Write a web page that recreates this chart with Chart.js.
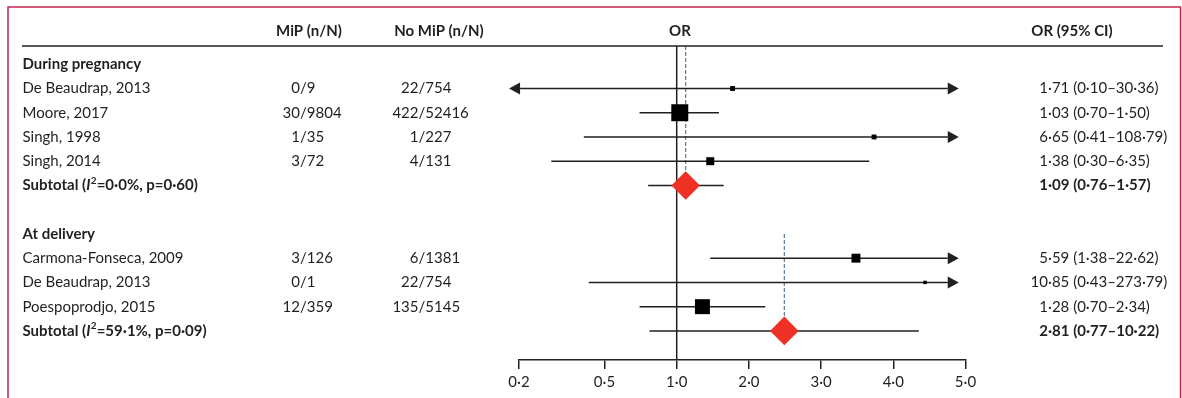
<!DOCTYPE html>
<html lang="en">
<head>
  <meta charset="UTF-8">
  <title>MiP forest plot</title>
  <script src="https://cdn.jsdelivr.net/npm/chart.js"></script>
  <style>
    html, body { margin: 0; padding: 0; background: #fff; }
    #chartContainer { width: 1182px; height: 398px; }
  </style>
</head>
<body>
<div id="chartContainer">
  <canvas id="forestChart"></canvas>
</div>

<script>
  // one entry per table row, top to bottom (row 6 is the gap between subgroups)
  const rowLabels = ['During pregnancy', 'De Beaudrap, 2013', 'Moore, 2017', 'Singh, 1998', 'Singh, 2014',
    'Subtotal (I²=0·0%, p=0·60)', '', 'At delivery', 'Carmona-Fonseca, 2009', 'De Beaudrap, 2013',
    'Poespoprodjo, 2015', 'Subtotal (I²=59·1%, p=0·09)'];
  const rowKinds = ['group', 'study', 'study', 'study', 'study', 'subtotal', 'blank',
    'group', 'study', 'study', 'study', 'subtotal'];
  const mipCounts = ['', '0/9', '30/9804', '1/35', '3/72', '', '', '', '3/126', '0/1', '12/359', ''];
  const noMipCounts = ['', '22/754', '422/52416', '1/227', '4/131', '', '', '', '6/1381', '22/754', '135/5145', ''];
  const oddsRatios = [null, 1.71, 1.03, 6.65, 1.38, 1.09, null, null, 5.59, 10.85, 1.28, 2.81];
  const ciLower = [null, 0.10, 0.70, 0.41, 0.30, 0.76, null, null, 1.38, 0.43, 0.70, 0.77];
  const ciUpper = [null, 30.36, 1.50, 108.79, 6.35, 1.57, null, null, 22.62, 273.79, 2.34, 10.22];
  // relative weights, guessed from the box sizes
  const studyWeights = [null, 6, 72, 6, 16, null, null, null, 20, 3, 56, null];
  // axis ticks as printed in the source figure
  const tickValues = [0.22, 0.5, 1, 2, 4, 8, 16];
  const tickLabels = ['0·2', '0·5', '1·0', '2·0', '3·0', '4·0', '5·0'];
  // CIs beyond these limits get an arrow
  const arrowMin = 0.2;
  const arrowMax = 15;

  const FONT = 'Lato';
  const INK = '#231f20';
  const RED = '#ee3124';

  const fmt = v => v.toFixed(2).replace('.', '·');
  const rowIdx = rowLabels.map((_, i) => i);

  const studyPoints = rowIdx.filter(i => rowKinds[i] === 'study').map(i => ({ x: oddsRatios[i], y: i }));
  const studyRadius = rowIdx.filter(i => rowKinds[i] === 'study').map(i => Math.sqrt(2 * studyWeights[i]));
  const subtotalPoints = rowIdx.filter(i => rowKinds[i] === 'subtotal').map(i => ({ x: oddsRatios[i], y: i }));

  function drawRich(ctx, text, x, y) {
    const parts = text.split('I²');
    ctx.font = `bold 15px ${FONT}`;
    ctx.fillText(parts[0], x, y);
    x += ctx.measureText(parts[0]).width;
    ctx.font = `italic bold 15px ${FONT}`;
    ctx.fillText('I', x, y);
    x += ctx.measureText('I').width + 0.5;
    ctx.font = `bold 10px ${FONT}`;
    ctx.fillText('2', x, y - 5);
    x += ctx.measureText('2').width;
    ctx.font = `bold 15px ${FONT}`;
    ctx.fillText(parts[1], x, y);
  }

  // draw "a/b" or "1·23 (...)" aligned on a split character
  function drawAligned(ctx, text, sep, x, y) {
    const k = text.indexOf(sep);
    ctx.textAlign = 'right';
    ctx.fillText(text.slice(0, k), x, y);
    ctx.textAlign = 'left';
    ctx.fillText(text.slice(k), x, y);
  }

  const forestDecor = {
    id: 'forestDecor',
    beforeDatasetsDraw(chart) {
      const { ctx, scales: { x, y }, chartArea } = chart;
      const headerLineY = 46;
      ctx.save();

      // line of no effect
      ctx.strokeStyle = INK;
      ctx.lineWidth = 1.5;
      ctx.beginPath();
      ctx.moveTo(x.getPixelForValue(1), headerLineY);
      ctx.lineTo(x.getPixelForValue(1), chartArea.bottom);
      ctx.stroke();

      // dashed pooled-estimate lines
      ctx.strokeStyle = '#5b7a8e';
      ctx.lineWidth = 1.2;
      ctx.setLineDash([4, 2]);
      rowIdx.filter(i => rowKinds[i] === 'subtotal').forEach(i => {
        let g = i;
        while (g > 0 && rowKinds[g] !== 'group') g--;
        const top = g === 0 ? headerLineY : y.getPixelForValue(g);
        const px = x.getPixelForValue(oddsRatios[i]);
        ctx.beginPath();
        ctx.moveTo(px, top);
        ctx.lineTo(px, y.getPixelForValue(i));
        ctx.stroke();
      });
      ctx.setLineDash([]);

      // confidence intervals
      ctx.strokeStyle = INK;
      ctx.fillStyle = INK;
      ctx.lineWidth = 1.5;
      const headLen = 11, headHalf = 6;
      rowIdx.filter(i => oddsRatios[i] !== null).forEach(i => {
        const py = y.getPixelForValue(i);
        const x0 = x.getPixelForValue(Math.max(ciLower[i], arrowMin));
        const x1 = x.getPixelForValue(Math.min(ciUpper[i], arrowMax));
        const leftArrow = ciLower[i] < arrowMin;
        const rightArrow = ciUpper[i] > arrowMax;
        ctx.beginPath();
        ctx.moveTo(leftArrow ? x0 + headLen : x0, py);
        ctx.lineTo(rightArrow ? x1 - headLen : x1, py);
        ctx.stroke();
        if (leftArrow) {
          ctx.beginPath();
          ctx.moveTo(x0, py);
          ctx.lineTo(x0 + headLen, py - headHalf);
          ctx.lineTo(x0 + headLen, py + headHalf);
          ctx.closePath();
          ctx.fill();
        }
        if (rightArrow) {
          ctx.beginPath();
          ctx.moveTo(x1, py);
          ctx.lineTo(x1 - headLen, py - headHalf);
          ctx.lineTo(x1 - headLen, py + headHalf);
          ctx.closePath();
          ctx.fill();
        }
      });
      ctx.restore();
    },
    afterDraw(chart) {
      const { ctx, scales: { y } } = chart;
      ctx.save();

      // page frame
      ctx.strokeStyle = '#c8264f';
      ctx.lineWidth = 1.5;
      ctx.beginPath();
      ctx.moveTo(8, 398);
      ctx.lineTo(8, 7);
      ctx.lineTo(1180.5, 7);
      ctx.lineTo(1180.5, 398);
      ctx.stroke();

      // header
      ctx.fillStyle = INK;
      ctx.textBaseline = 'middle';
      ctx.textAlign = 'center';
      ctx.font = `bold 15px ${FONT}`;
      ctx.fillText('MiP (n/N)', 309, 31);
      ctx.fillText('No MiP (n/N)', 439, 31);
      ctx.fillText('OR', 680, 31);
      ctx.fillText('OR (95% CI)', 1072, 31);

      ctx.strokeStyle = INK;
      ctx.lineWidth = 1.6;
      ctx.beginPath();
      ctx.moveTo(22, 46);
      ctx.lineTo(1163, 46);
      ctx.stroke();

      rowIdx.forEach(i => {
        const py = y.getPixelForValue(i);
        const kind = rowKinds[i];
        ctx.textAlign = 'left';
        if (kind === 'group') {
          ctx.font = `bold 15px ${FONT}`;
          ctx.fillText(rowLabels[i], 22.5, py);
        } else if (kind === 'subtotal') {
          drawRich(ctx, rowLabels[i], 22.5, py);
        } else if (kind === 'study') {
          ctx.font = `15px ${FONT}`;
          ctx.fillText(rowLabels[i], 22.5, py);
          drawAligned(ctx, mipCounts[i], '/', 300, py);
          drawAligned(ctx, noMipCounts[i], '/', 418.5, py);
        }
        if (oddsRatios[i] !== null) {
          ctx.font = `${kind === 'subtotal' ? 'bold ' : ''}15px ${FONT}`;
          const txt = `${fmt(oddsRatios[i])} (${fmt(ciLower[i])}–${fmt(ciUpper[i])})`;
          drawAligned(ctx, txt, '·', 1048, py);
        }
      });
      ctx.restore();
    }
  };

  Chart.defaults.font.family = FONT;
  Chart.defaults.color = INK;

  new Chart(document.getElementById('forestChart'), {
    type: 'scatter',
    data: {
      datasets: [{
        label: 'Studies',
        data: studyPoints,
        pointStyle: 'rect',
        pointRadius: studyRadius,
        backgroundColor: '#000',
        borderWidth: 0,
        clip: false
      }, {
        label: 'Subtotals',
        data: subtotalPoints,
        pointStyle: 'rectRot',
        pointRadius: 14.3,
        backgroundColor: RED,
        borderWidth: 0,
        clip: false
      }]
    },
    options: {
      responsive: true,
      maintainAspectRatio: false,
      animation: false,
      events: [],
      layout: { padding: { left: 519, right: 216.5, top: 40, bottom: 3 } },
      plugins: { legend: { display: false }, tooltip: { enabled: false } },
      scales: {
        x: {
          type: 'logarithmic',
          position: 'bottom',
          min: tickValues[0],
          max: tickValues[tickValues.length - 1],
          afterBuildTicks: scale => {
            scale.ticks = tickValues.map(v => ({ value: v }));
          },
          ticks: {
            autoSkip: false,
            maxRotation: 0,
            padding: 4,
            color: INK,
            font: { size: 15 },
            callback: (value, index) => tickLabels[index]
          },
          grid: { drawOnChartArea: false, drawTicks: true, tickLength: 9, color: INK, lineWidth: 1.5 },
          border: { display: true, color: INK, width: 1.5 }
        },
        y: {
          type: 'linear',
          display: false,
          reverse: true,
          min: -1,
          max: 12.2
        }
      }
    },
    plugins: [forestDecor]
  });
</script>
</body>
</html>
